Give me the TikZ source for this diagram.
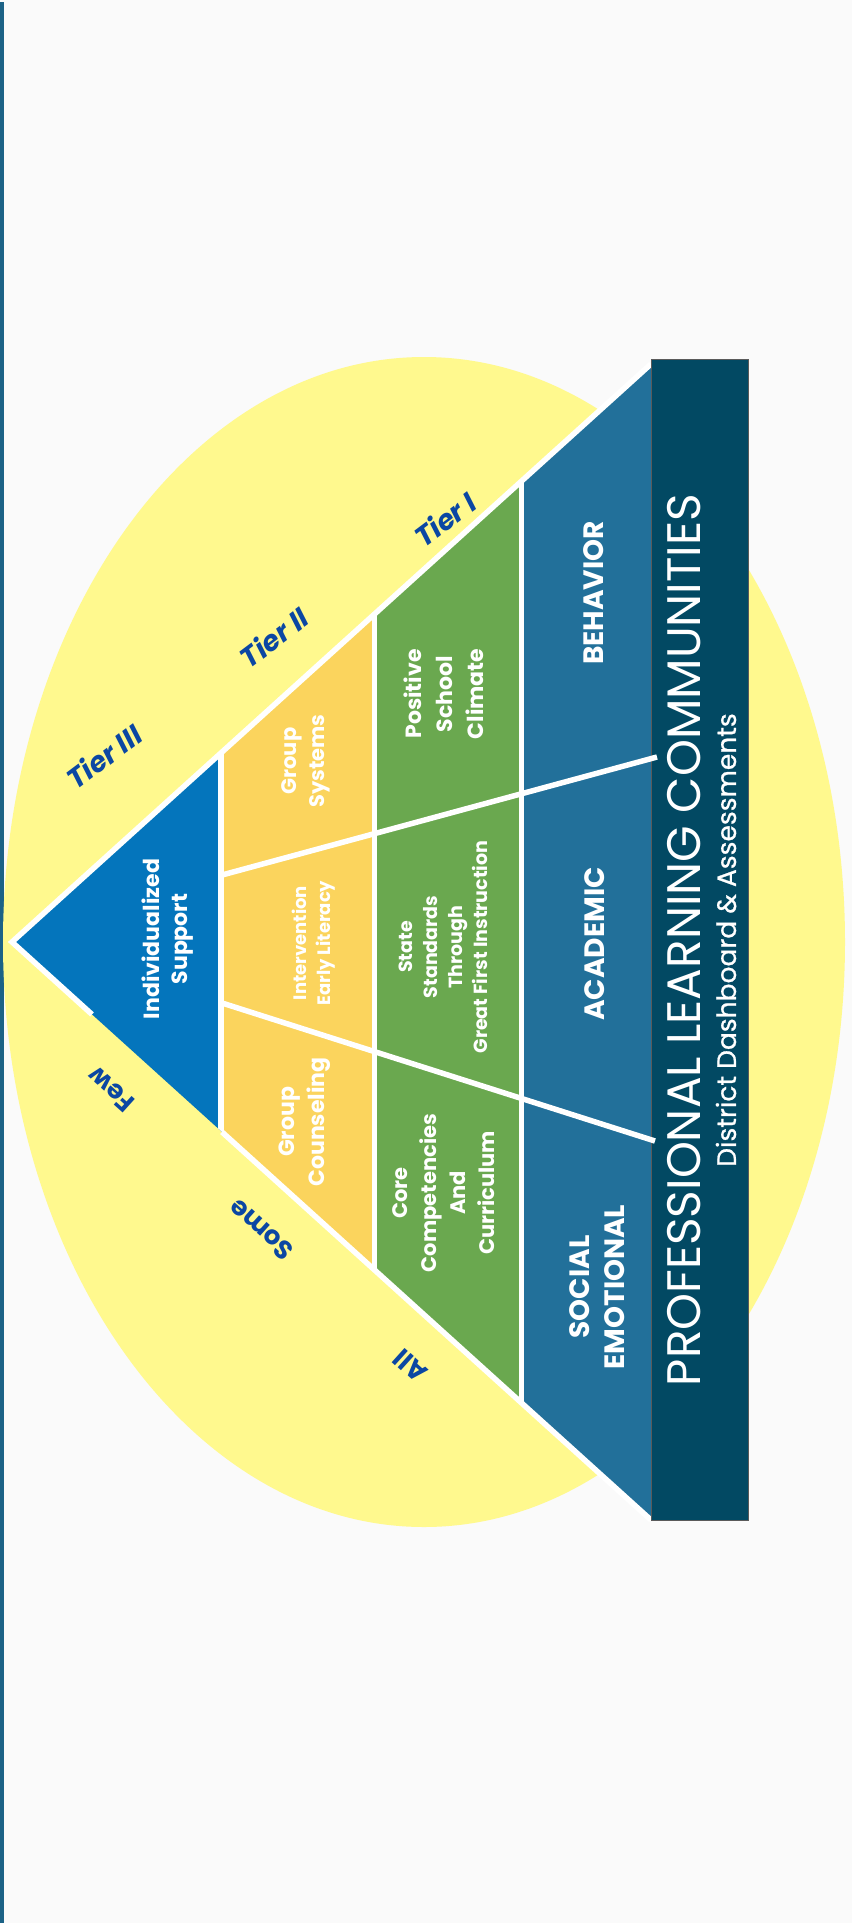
\documentclass[tikz,border=0pt]{standalone}
\usepackage{fontspec}
\setmainfont{Poppins}
\definecolor{bg}{HTML}{FAFAFA}
\definecolor{barblue}{HTML}{1C6286}
\definecolor{ellyellow}{HTML}{FFF98E}
\definecolor{triblue}{HTML}{0475BC}
\definecolor{cellyellow}{HTML}{FBD45D}
\definecolor{cellgreen}{HTML}{6AA84F}
\definecolor{cellblue}{HTML}{22709A}
\definecolor{rectblue}{HTML}{024963}
\definecolor{rectborder}{HTML}{5A5A5A}
\definecolor{tierblue}{HTML}{0B47A3}
\begin{document}
\begin{tikzpicture}[x=1pt,y=-1pt,
  lbl/.style={text=white, align=center, rotate=90, inner sep=0pt},
  tierlbl/.style={text=tierblue, font=\fontsize{28}{30}\selectfont\bfseries\itshape, rotate=37, inner sep=0pt},
  poplbl/.style={text=tierblue, font=\fontsize{26}{30}\selectfont\bfseries, rotate=138, inner sep=0pt},
  wline/.style={draw=white, line width=5.5pt}]
\useasboundingbox (0,0) rectangle (852,1923);
\fill[bg] (0,0) rectangle (852,1923);
\fill[barblue] (0,2) rectangle (4,1923);
% halo ellipse
\fill[ellyellow] (424,942) ellipse [x radius=421pt, y radius=585pt];
% pyramid
\begin{scope}
  \clip (12,942) -- (651,364) -- (651,1520) -- cycle;
  \fill[triblue] (0,300) rectangle (222,1600);
  \fill[cellyellow] (222,300) rectangle (374,1600);
  \fill[cellgreen] (374,300) rectangle (522,1600);
  \fill[cellblue] (522,300) rectangle (651,1600);
  \draw[wline] (221,300) -- (221,1600);
  \draw[wline] (374.5,300) -- (374.5,1600);
  \draw[wline] (521.5,300) -- (521.5,1600);
\end{scope}
% outline
\draw[wline, line join=miter] (92,1014.4) -- (12,942) -- (651,364);
\draw[wline] (222,1132) -- (651,1520);
% base bar
\draw[fill=rectblue, draw=rectborder, line width=1pt] (651,359) rectangle (748,1520);
% row dividers
\draw[wline] (222,875) -- (657,757);
\draw[wline] (222,1003) -- (655,1141);
% cell labels
\node[lbl, font=\fontsize{22}{28}\selectfont\bfseries] (indiv) at (168,939) {Individualized\\Support};
\node[lbl, font=\fontsize{21}{28}\selectfont\bfseries] (grpsys) at (306,761) {Group\\Systems};
\node[lbl, font=\fontsize{18}{24}\selectfont\bfseries] (interv) at (314,943) {Intervention\\Early Literacy};
\node[lbl, font=\fontsize{22}{30}\selectfont\bfseries] (grpcoun) at (305,1122) {Group\\Counseling};
\node[lbl, font=\fontsize{22}{31}\selectfont\bfseries] (positive) at (444,694) {Positive\\School\\Climate};
\node[lbl, font=\fontsize{19}{25}\selectfont\bfseries] (state) at (443,947) {State\\Standards\\Through\\Great First Instruction};
\node[lbl, font=\fontsize{21}{29}\selectfont\bfseries] (core) at (444,1193) {Core\\Competencies\\And\\Curriculum};
\node[lbl, font=\fontsize{28}{35}\selectfont\bfseries] (behav) at (594,593) {BEHAVIOR};
\node[lbl, font=\fontsize{28}{35}\selectfont\bfseries] (acad) at (595,944) {ACADEMIC};
\node[lbl, font=\fontsize{28}{35}\selectfont\bfseries] (socemo) at (597,1287) {SOCIAL\\EMOTIONAL};
\node[lbl, font=\fontsize{47}{50}\selectfont] (plc) at (684,940) {PROFESSIONAL LEARNING COMMUNITIES};
\node[lbl, font=\fontsize{26.5}{30}\selectfont\addfontfeatures{FakeBold=0.8}] (dist) at (726,940) {District Dashboard \& Assessments};
% tier labels
\node[tierlbl] (t3) at (104,756) {Tier III};
\node[tierlbl] (t2) at (274,637) {Tier II};
\node[tierlbl] (t1) at (445,519) {Tier I};
\node[poplbl] (few) at (111,1090) {Few};
\node[poplbl] (some) at (261,1230) {Some};
\node[poplbl] (all) at (410,1366) {All};
\end{tikzpicture}
\end{document}
